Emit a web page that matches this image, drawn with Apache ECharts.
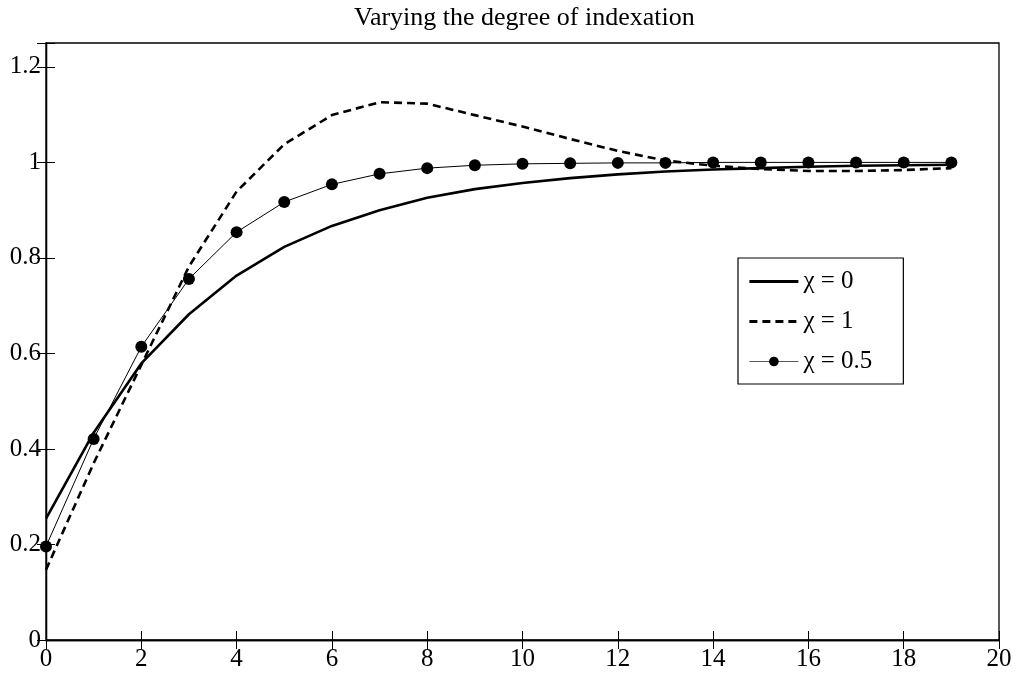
<!DOCTYPE html>
<html>
<head>
<meta charset="utf-8">
<script src="https://cdn.jsdelivr.net/npm/echarts@6/dist/echarts.min.js"></script>
<style>html,body{margin:0;padding:0;background:#fff;}#c{width:1017px;height:675px;}</style>
</head>
<body>
<div id="c"></div>
<script>
var periods = [0,1,2,3,4,5,6,7,8,9,10,11,12,13,14,15,16,17,18,19];
var chi0 = [0.254,0.434,0.579,0.682,0.763,0.823,0.867,0.900,0.926,0.944,0.957,0.967,0.975,0.981,0.985,0.988,0.991,0.993,0.994,0.995];
var chi1 = [0.147,0.370,0.576,0.782,0.939,1.038,1.099,1.126,1.123,1.099,1.075,1.049,1.024,1.004,0.993,0.986,0.982,0.982,0.984,0.988];
var chi05 = [0.196,0.421,0.614,0.756,0.854,0.917,0.954,0.976,0.988,0.994,0.997,0.998,0.999,0.999,1.000,1.000,1.000,1.000,1.000,1.000];
var seriesNames = ['χ = 0','χ = 1','χ = 0.5'];
var titleText = 'Varying the degree of indexation';

function pairs(v){ return periods.map(function(x,i){ return [x, v[i]]; }); }
var FONT = 'Liberation Serif';
var chart = echarts.init(document.getElementById('c'));
function axisCommon(extra){
  return Object.assign({
    axisLine:{show:true,lineStyle:{color:'#000',width:1.3}},
    axisTick:{show:true,inside:true,length:9,lineStyle:{color:'#000',width:1}},
    splitLine:{show:false},
    axisLabel:{color:'#000',fontFamily:FONT,fontSize:25}
  }, extra);
}
chart.setOption({
  animation:false,
  backgroundColor:'#fff',
  title:{text:titleText,left:354,top:5,padding:0,
    textStyle:{fontFamily:FONT,fontSize:26,fontWeight:'normal',color:'#000'}},
  grid:{left:46,right:18,top:43,bottom:35,show:true,borderColor:'#000',borderWidth:1.3},
  xAxis:[
    axisCommon({type:'value',min:0,max:20,interval:2,position:'bottom',
      axisLabel:{color:'#000',fontFamily:FONT,fontSize:25,margin:7}}),
    axisCommon({type:'value',min:0,max:20,interval:2,position:'top',axisLabel:{show:false}})
  ],
  yAxis:[
    axisCommon({type:'value',min:0,max:1.25,interval:0.2,position:'left',
      axisLabel:{color:'#000',fontFamily:FONT,fontSize:25,margin:5,
        formatter:function(v){ var r=Math.round(v*5); return Math.abs(v*5-r)<1e-6 ? String(+(r/5).toFixed(1)) : ''; }}}),
    axisCommon({type:'value',min:0,max:1.25,interval:0.2,position:'right',axisLabel:{show:false}})
  ],
  legend:{
    orient:'vertical',left:738,top:258,
    padding:[11,31,10,10],itemGap:15,itemWidth:49,itemHeight:12,
    borderColor:'#000',borderWidth:1.2,backgroundColor:'#fff',
    textStyle:{fontFamily:FONT,fontSize:25,color:'#000',lineHeight:25},
    data:[
      {name:seriesNames[0],itemStyle:{opacity:0},lineStyle:{width:2.8}},
      {name:seriesNames[1],itemStyle:{opacity:0},lineStyle:{width:2.8,type:[8,5]}},
      {name:seriesNames[2],lineStyle:{width:1,color:'#555'}}
    ]
  },
  series:[
    {name:seriesNames[0],type:'line',data:pairs(chi0),showSymbol:false,symbol:'none',
      lineStyle:{color:'#000',width:2.6},itemStyle:{color:'#000'}},
    {name:seriesNames[1],type:'line',data:pairs(chi1),showSymbol:false,symbol:'none',
      lineStyle:{color:'#000',width:2.6,type:[8,5]},itemStyle:{color:'#000'}},
    {name:seriesNames[2],type:'line',data:pairs(chi05),symbol:'circle',symbolSize:12,
      lineStyle:{color:'#000',width:1},itemStyle:{color:'#000'}}
  ]
});
</script>
</body>
</html>
